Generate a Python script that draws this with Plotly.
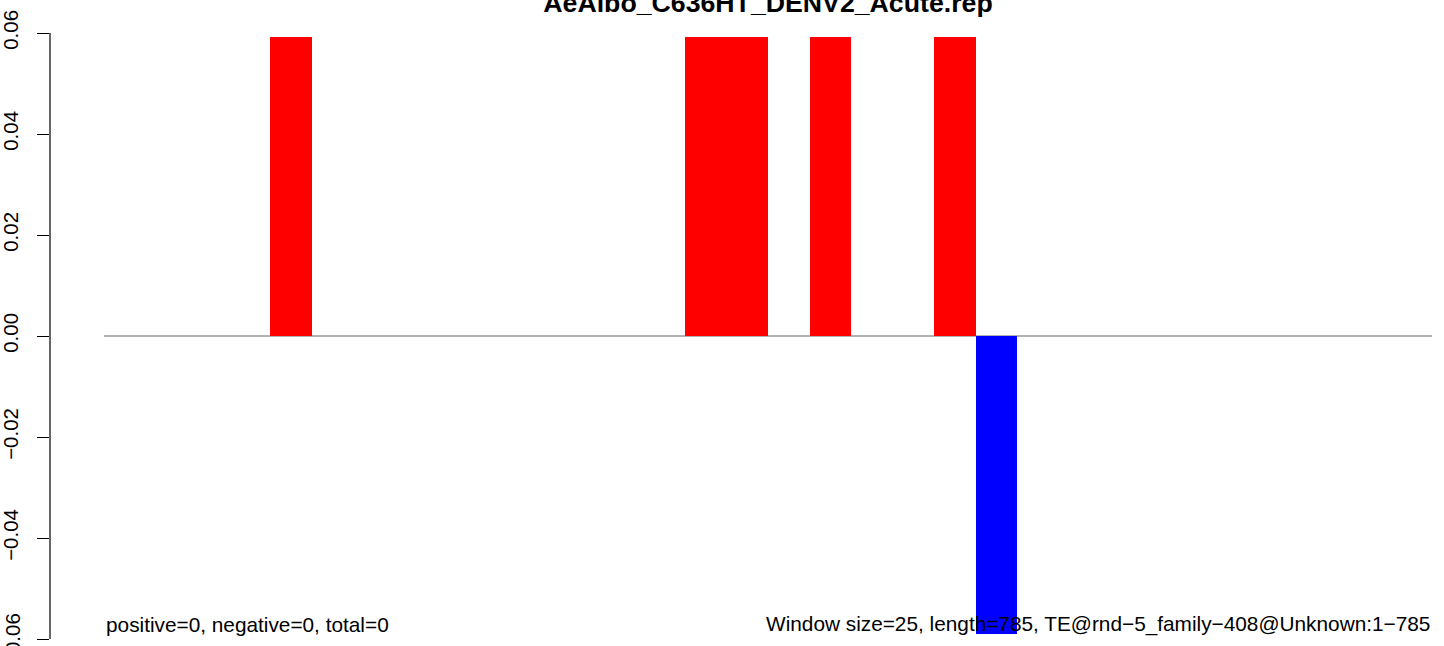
import plotly.graph_objects as go

# ---- data ----
title_text = "AeAlbo_C636HT_DENV2_Acute.rep"
n_windows = 32
bin_index = [4, 14, 15, 17, 20, 21]
bin_value = [0.0592, 0.0592, 0.0592, 0.0592, 0.0592, -0.0590]
tick_vals = [-0.06, -0.04, -0.02, 0.00, 0.02, 0.04, 0.06]
tick_text = ["\u22120.06", "\u22120.04", "\u22120.02", "0.00", "0.02", "0.04", "0.06"]
left_note = "positive=0, negative=0, total=0"
right_note = "Window size=25, length=785, TE@rnd\u22125_family\u2212408@Unknown:1\u2212785"

W, H = 1444, 646
FONT = "Liberation Sans, Arial, Helvetica, sans-serif"

x_centers = [i + 0.5 for i in bin_index]
colors = ["#FF0000" if v > 0 else "#0000FF" for v in bin_value]

fig = go.Figure()
fig.add_trace(go.Bar(
    x=x_centers, y=bin_value, width=[1.0] * len(bin_index),
    marker=dict(color=colors, line=dict(width=0)),
    showlegend=False, hoverinfo="x+y",
))

# pixel geometry: bin 0 starts at x=104, 41.5 px per bin; plot area 50..1440
px_per_bin = 41.5
x0_px = 104
left_px, right_px = 50, 1440
xr = [(left_px - x0_px) / px_per_bin, (right_px - x0_px) / px_per_bin]

top_px, zero_px = 33, 336
px_per_unit = (zero_px - top_px) / 0.06
yr = [-(H - zero_px) / px_per_unit, 0.06]

# zero baseline
fig.add_shape(type="line", xref="x", yref="y", x0=0, x1=n_windows, y0=0, y1=0,
              line=dict(color="#999999", width=1.5), layer="below")
# y axis line from -0.06 to 0.06
fig.add_shape(type="line", xref="paper", yref="y", x0=0, x1=0, y0=min(tick_vals), y1=max(tick_vals),
              line=dict(color="black", width=1.2))

# lowest tick label (partly cut off by the page edge, as in the original)
fig.add_annotation(text=tick_text[0], xref="paper", yref="y", x=0, y=tick_vals[0],
                   textangle=-90, xanchor="center", yanchor="middle", xshift=-38,
                   showarrow=False, font=dict(family=FONT, size=20.5, color="black"))

note_y = -0.0584  # text baseline position in data units
fig.add_annotation(text=left_note, xref="x", yref="y", x=0, y=note_y,
                   xanchor="left", yanchor="bottom", showarrow=False, yshift=-7,
                   font=dict(family=FONT, size=20.8, color="black"))
fig.add_annotation(text=right_note, xref="x", yref="y", x=n_windows, y=note_y,
                   xanchor="right", yanchor="bottom", showarrow=False, yshift=-7,
                   font=dict(family=FONT, size=20.8, color="black"))

fig.update_layout(
    width=W, height=H,
    margin=dict(l=left_px, r=W - right_px, t=top_px, b=0, pad=0, autoexpand=False),
    paper_bgcolor="white", plot_bgcolor="white",
    title=dict(text="<b>" + title_text + "</b>", x=768 / W, xanchor="center",
               xref="container", y=1 - 12 / H, yanchor="bottom", yref="container",
               font=dict(family=FONT, size=26.7, color="black"), pad=dict(b=0, t=0)),
    xaxis=dict(range=xr, visible=False, fixedrange=True, automargin=False),
    yaxis=dict(range=yr, tickmode="array", tickvals=tick_vals, ticktext=tick_text,
               ticks="outside", ticklen=12, tickwidth=1.2, tickcolor="black",
               tickangle=-90, showgrid=False, zeroline=False, showline=False,
               tickfont=dict(family=FONT, size=20.5, color="black"),
               ticklabelstandoff=11, fixedrange=True, automargin=False),
    bargap=0,
)

fig.write_html("out.html", config={"displayModeBar": False},
               post_script="document.body.style.margin='0';document.body.style.padding='0';")
